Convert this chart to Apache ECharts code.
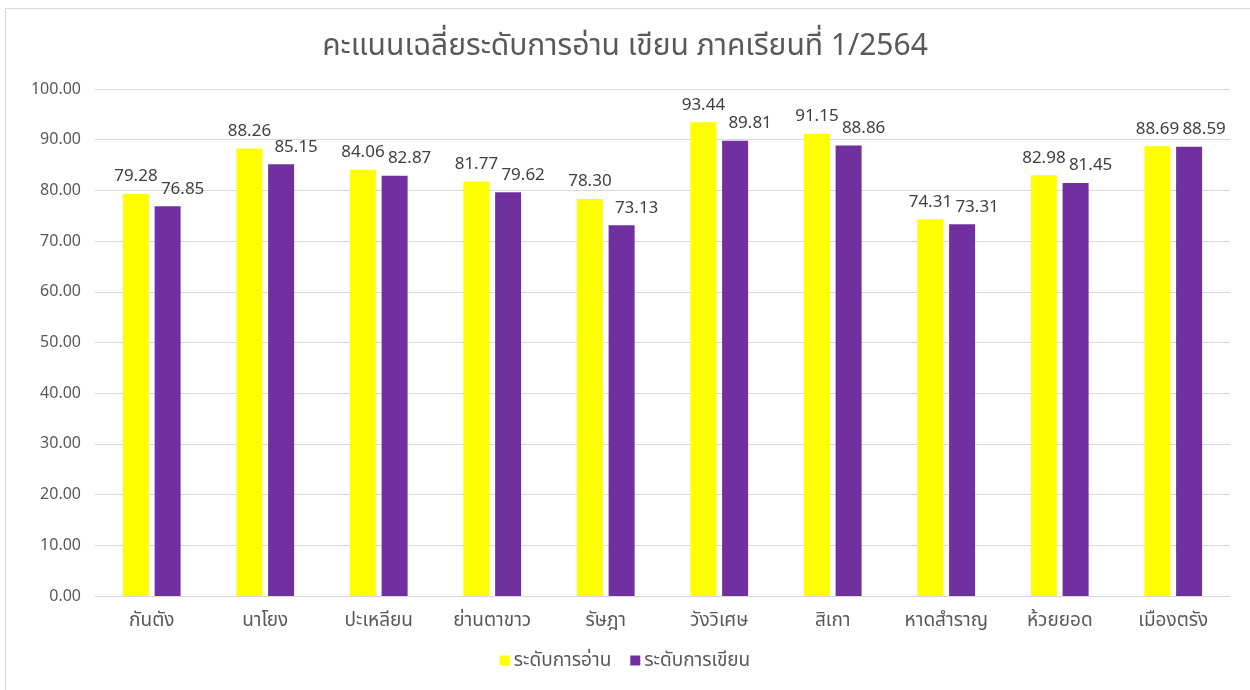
<!DOCTYPE html>
<html>
<head>
<meta charset="utf-8">
<script src="https://cdn.jsdelivr.net/npm/echarts@6/dist/echarts.min.js"></script>
<style>
    html, body { margin: 0; padding: 0; background: #fff; }
    #frame { position: absolute; left: 5px; top: 8px; width: 1250px; height: 690px; border: 1px solid #d9d9d9; box-sizing: border-box; }
    #chart { position: absolute; left: 0; top: 0; width: 1250px; height: 690px; }
</style>
</head>
<body>
<div id="frame"></div>
<div id="chart"></div>
<script>
    let categories = ['กันตัง', 'นาโยง', 'ปะเหลียน', 'ย่านตาขาว', 'รัษฎา', 'วังวิเศษ', 'สิเกา', 'หาดสำราญ', 'ห้วยยอด', 'เมืองตรัง']
    let readingScores = [79.28, 88.26, 84.06, 81.77, 78.30, 93.44, 91.15, 74.31, 82.98, 88.69]
    let writingScores = [76.85, 85.15, 82.87, 79.62, 73.13, 89.81, 88.86, 73.31, 81.45, 88.59]
    let seriesNames = ['ระดับการอ่าน', 'ระดับการเขียน']

    let font = "'Noto Sans', 'Noto Sans Thai', sans-serif"
    let mychart = echarts.init(document.getElementById('chart'))

    // Excel-style value labels: the second series' labels sit a little to the right
    function makeLabel(dx) {
        return {
            show: true,
            position: 'top',
            distance: 9,
            offset: [dx, 0],
            fontSize: 17,
            fontFamily: font,
            color: '#404040',
            formatter: function (params) {
                return params.value.toFixed(2)
            }
        }
    }

    let option = {
        color: ['#ffff00', '#7030a0'],
        textStyle: { fontFamily: font },
        title: {
            text: 'คะแนนเฉลี่ยระดับการอ่าน เขียน ภาคเรียนที่ 1/2564',
            left: 'center',
            top: 26,
            textStyle: {
                fontSize: 30,
                fontWeight: 'normal',
                color: '#595959',
                fontFamily: font
            }
        },
        legend: {
            bottom: 15,
            left: 'center',
            itemWidth: 10,
            itemHeight: 10,
            itemGap: 19,
            icon: 'rect',
            data: seriesNames,
            textStyle: { fontSize: 19, color: '#595959', fontFamily: font, padding: [0, 0, 0, -1] }
        },
        grid: {
            left: 95,
            right: 20,
            top: 89,
            bottom: 94
        },
        xAxis: {
            type: 'category',
            data: categories,
            axisTick: { show: false },
            axisLine: { lineStyle: { color: '#d9d9d9' } },
            axisLabel: {
                color: '#595959',
                fontSize: 19,
                margin: 15,
                fontFamily: font
            }
        },
        yAxis: {
            type: 'value',
            min: 0,
            max: 100,
            interval: 10,
            axisLine: { show: false },
            axisTick: { show: false },
            splitLine: { lineStyle: { color: '#d9d9d9' } },
            axisLabel: {
                color: '#595959',
                fontSize: 16,
                margin: 14,
                fontFamily: font,
                formatter: function (v) { return v.toFixed(2) }
            }
        },
        series: [
            {
                name: seriesNames[0],
                type: 'bar',
                barWidth: 26,
                barGap: '22%',
                label: makeLabel(0),
                data: readingScores
            },
            {
                name: seriesNames[1],
                type: 'bar',
                barWidth: 26,
                label: makeLabel(15),
                data: writingScores
            }
        ]
    }
    mychart.setOption(option)
</script>
</body>
</html>
